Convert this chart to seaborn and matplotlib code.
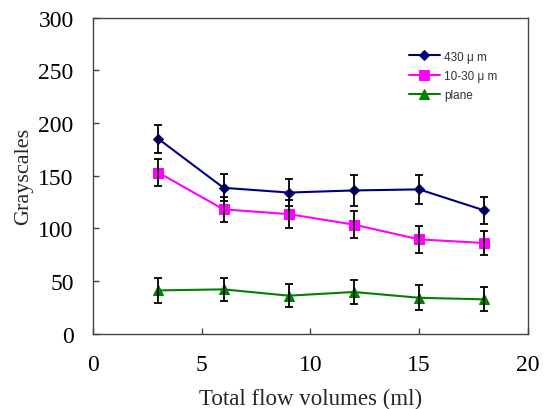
import numpy as np
import pandas as pd
import seaborn as sns
import matplotlib.pyplot as plt

# Data
volumes = [3, 6, 9, 12, 15, 18]
series_names = ['430 μ m', '10-30 μ m', 'plane']
gray_430 = [185, 138.5, 134, 136, 137, 117]
gray_1030 = [153, 118, 113.5, 103.5, 89.5, 86]
gray_plane = [41, 42, 36, 39.5, 34, 32.5]
err_430 = [13, 13, 12.5, 15, 14, 12.5]
err_1030 = [12.5, 12, 13.5, 12.5, 12.5, 11]
err_plane = [11.5, 11, 11, 11, 12, 11.5]

colors = {'430 μ m': '#00007f', '10-30 μ m': '#ff00ff', 'plane': '#008000'}
markers = {'430 μ m': 'D', '10-30 μ m': 's', 'plane': '^'}
msizes = {'430 μ m': 5, '10-30 μ m': 7, 'plane': 7}

df = pd.DataFrame({
    'volume': volumes * 3,
    'gray': gray_430 + gray_1030 + gray_plane,
    'err': err_430 + err_1030 + err_plane,
    'series': np.repeat(series_names, len(volumes)),
})

sns.set_style('ticks')
plt.rcParams['font.family'] = ['Liberation Serif', 'DejaVu Serif']

fig = plt.figure(figsize=(5.51, 4.10), dpi=100)
ax = fig.add_axes([0.169, 0.184, 0.789, 0.77])

for name in series_names:
    d = df[df['series'] == name]
    sns.lineplot(data=d, x='volume', y='gray', ax=ax, color=colors[name],
                 marker=markers[name], markersize=msizes[name],
                 markeredgecolor=colors[name], linewidth=1.5, label=name,
                 zorder=2)
    ax.errorbar(d['volume'], d['gray'], yerr=d['err'], fmt='none',
                ecolor='black', elinewidth=1.3, capsize=3, capthick=1.3,
                zorder=3)

ax.set_xlim(0, 20)
ax.set_ylim(0, 300)
ax.set_xticks([0, 5, 10, 15, 20])
ax.set_yticks(range(0, 301, 50))
ax.tick_params(direction='in', length=4, width=1, colors='#444444',
               labelcolor='black', labelsize=17, pad=14)
ax.tick_params(axis='x', pad=15)
for s in ax.spines.values():
    s.set_visible(True)
    s.set_color('#444444')
    s.set_linewidth(1)

ax.set_xlabel('Total flow volumes (ml)', fontsize=16.5, labelpad=9)
ax.set_ylabel('Grayscales', fontsize=16, labelpad=4)

leg = ax.legend(loc='upper right', bbox_to_anchor=(0.955, 0.93), frameon=False,
                prop={'family': ['Liberation Sans', 'DejaVu Sans'], 'size': 8.5},
                handlelength=2.6, labelspacing=0.6, handletextpad=0.4)
for t in leg.get_texts():
    t.set_color('#333333')

fig.savefig('out.png', dpi=100)
